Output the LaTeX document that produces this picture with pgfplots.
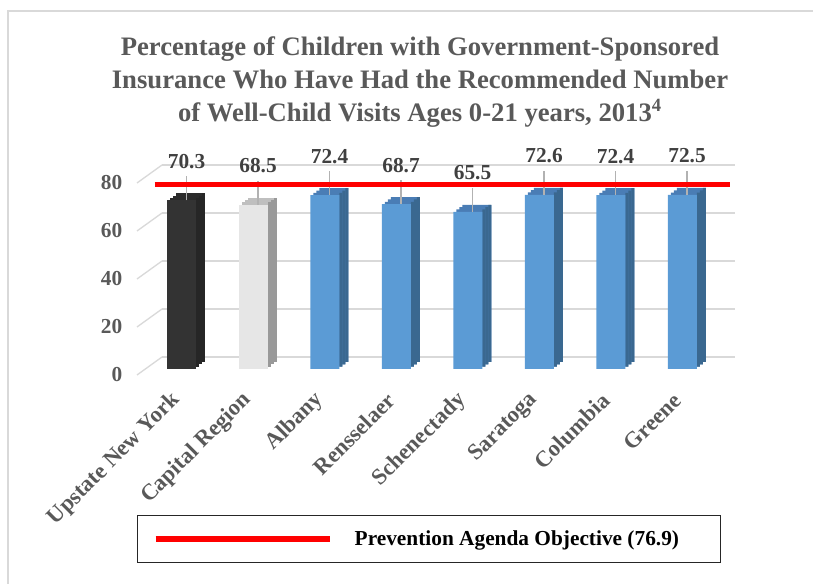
\documentclass[border=0pt]{standalone}
\usepackage{fontspec}
\setmainfont{Liberation Serif}
\usepackage{pgfplots}
\pgfplotsset{compat=1.18}
\usepackage{pgfplotstable}

\definecolor{txtgray}{HTML}{595959}
\definecolor{lblgray}{HTML}{404040}
\definecolor{gridgray}{HTML}{D9D9D9}
\definecolor{blueF}{HTML}{5B9BD5}
\definecolor{blueT}{HTML}{4A7DB5}
\definecolor{blueS}{HTML}{3A6890}
\definecolor{darkF}{HTML}{333333}
\definecolor{darkT}{HTML}{2B2B2B}
\definecolor{darkS}{HTML}{262626}
\definecolor{lightF}{HTML}{E6E6E6}
\definecolor{lightT}{HTML}{BFBFBF}
\definecolor{lightS}{HTML}{999999}

% one table per colour group
\pgfplotstableread{
x y
0 70.3
}\upstate
\pgfplotstableread{
x y
1 68.5
}\capital
\pgfplotstableread{
x y
2 72.4
3 68.7
4 65.5
5 72.6
6 72.4
7 72.5
}\counties

% faces of the pseudo-3D bars: three depth steps of 2.25pt x 1.75pt
\pgfplotsset{
  L1/.style={ybar, bar width=21.75pt, bar shift=2.25pt, yshift=1.75pt, draw=none, forget plot},
  L2/.style={ybar, bar width=21.75pt, bar shift=4.5pt, yshift=3.5pt, draw=none, forget plot},
  L3/.style={ybar, bar width=21.75pt, bar shift=6.75pt, yshift=5.25pt, draw=none, forget plot},
  S1/.style={ybar, bar width=2.3pt, bar shift=12pt, yshift=1.75pt, draw=none, forget plot},
  S2/.style={ybar, bar width=2.3pt, bar shift=14.25pt, yshift=3.5pt, draw=none, forget plot},
  S3/.style={ybar, bar width=2.3pt, bar shift=16.5pt, yshift=5.25pt, draw=none, forget plot},
  F/.style={ybar, bar width=21.75pt, bar shift=0pt, draw=none, forget plot},
}
% #1 table, #2 front, #3 top, #4 side
\newcommand{\threedbar}[4]{%
  \addplot[L3, fill=#3] table {#1};
  \addplot[L2, fill=#3] table {#1};
  \addplot[L1, fill=#3] table {#1};
  \addplot[S3, fill=#4] table {#1};
  \addplot[S2, fill=#4] table {#1};
  \addplot[S1, fill=#4] table {#1};
  \addplot[F, fill=#2] table {#1};
}

\begin{document}
\begin{tikzpicture}
\useasboundingbox (0,0) rectangle (609.75pt,438pt);
\draw[gridgray, line width=1.2pt] (6pt,0pt) -- (6pt,429.75pt) -- (609.75pt,429.75pt);

\node[align=center, font=\fontsize{20}{24.5}\selectfont\bfseries, text=txtgray]
  at (315pt,376.5pt)
  {Percentage of Children with Government-Sponsored\\
   Insurance Who Have Had the Recommended Number\\
   of Well-Child Visits Ages 0-21 years, 2013\textsuperscript{4}};

\begin{axis}[
  at={(104.25pt,161.25pt)}, anchor=south west,
  scale only axis, x=53.625pt, height=144pt,
  xmin=-0.6, xmax=7.41, ymin=0, ymax=80,
  clip=false,
  axis line style={draw=none}, major tick length=0pt,
  ytick={0,20,...,80}, xtick={0,...,7},
  xticklabels={Upstate New York, Capital Region, Albany, Rensselaer,
               Schenectady, Saratoga, Columbia, Greene},
  ymajorgrids,
  major grid style={draw=gridgray, line width=1pt, xshift=17.25pt, yshift=9pt},
  /pgf/number format/assume math mode=true,
  ticklabel style={font=\fontsize{16}{19}\selectfont\bfseries, text=txtgray},
  yticklabel style={xshift=-9pt, yshift=-4.5pt},
  xticklabel style={xshift=-1.5pt, yshift=-18.5pt, rotate=45, anchor=east,
                    font=\fontsize{17}{20}\selectfont\bfseries},
  legend cell align=left,
  legend style={at={(-0.0035,-0.7604)}, anchor=north west,
    draw=black!85, line width=1.1pt, inner xsep=0pt, inner ysep=0pt,
    column sep=0pt,
    nodes={inner sep=0pt, minimum height=35.25pt,
           font=\fontsize{16}{19}\selectfont\bfseries, text=black}},
]
% diagonal stubs of the back wall gridlines
\pgfplotsinvokeforeach{0,20,...,80}{
  \draw[gridgray, line width=1pt]
    ([xshift=-1.5pt, yshift=-4.5pt]axis cs:-0.6,#1) --
    ([xshift=17.25pt, yshift=9pt]axis cs:-0.6,#1);
}

\threedbar{\upstate}{darkF}{darkT}{darkS}
\threedbar{\capital}{lightF}{lightT}{lightS}
\threedbar{\counties}{blueF}{blueT}{blueS}

% leader lines and value labels
\addplot[draw=none, mark=none, xshift=3.5pt, forget plot,
  nodes near coords,
  every node near coord/.append style={font=\fontsize{16}{19}\selectfont\bfseries,
    text=lblgray, anchor=base, yshift=24pt},
  error bars/.cd, y dir=plus, y explicit, error mark=none,
  error bar style={draw=gray!60, line width=0.9pt}]
coordinates {
  (0,70.3) +- (0,10)
  (1,68.5) +- (0,10)
  (2,72.4) +- (0,10)
  (3,68.7) +- (0,10)
  (4,65.5) +- (0,10)
  (5,72.6) +- (0,10)
  (6,72.4) +- (0,10)
  (7,72.5) +- (0,10)
};

% objective line
\addplot[red, line width=3.75pt,
  legend image code/.code={
    \path[draw=none] (0pt,0pt) -- (162.75pt,0pt);
    \draw[red, line width=4.5pt] (13.5pt,0pt) -- (144.4pt,0pt);}]
coordinates {(-0.38,76.9) (7.66,76.9)};
\addlegendentry{\makebox[274.5pt][l]{Prevention Agenda Objective (76.9)}}
\end{axis}
\end{tikzpicture}
\end{document}
